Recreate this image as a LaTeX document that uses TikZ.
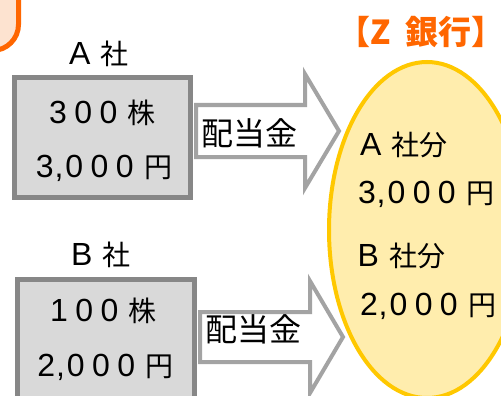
\documentclass[tikz,border=0pt]{standalone}
\usepackage{fontspec}
\usetikzlibrary{shapes.geometric}
\setmainfont{Noto Sans CJK JP}[WordSpace=0.5]
\newfontfamily\latf{Liberation Sans}
\newfontfamily\titlef{Noto Sans CJK JP}[WordSpace=2]
\newlength\lsp \setlength\lsp{7.4pt}
\def\spcaux#1{\ifx\relax#1\else\ifx,#1\kern-6.5pt,\kern2pt\else#1\kern\lsp\fi\expandafter\spcaux\fi}
\newcommand\ltn[1]{{\latf\fontsize{32}{36}\selectfont\spcaux#1\relax}}
\definecolor{boxfill}{HTML}{D9D9D9}
\definecolor{boxline}{HTML}{878787}
\definecolor{arrowline}{HTML}{A3A3A3}
\definecolor{ellfill}{HTML}{FFEDAD}
\definecolor{ellline}{HTML}{FFC800}
\definecolor{titleor}{HTML}{FF6600}
\definecolor{peach}{HTML}{FDE3D0}
\begin{document}
\begin{tikzpicture}[x=1pt,y=-1pt,
  txt/.style={inner sep=0pt, outer sep=0pt, font=\fontsize{28}{34}\selectfont},
  boxstyle/.style={draw=boxline, fill=boxfill, line width=5pt, inner sep=0pt},
  blockarrow/.style={draw=arrowline, fill=white, line width=4pt, line join=miter},
  bank/.style={ellipse, draw=ellline, fill=ellfill, line width=4pt, inner sep=0pt}]
\useasboundingbox (0,0) rectangle (501,396);
\clip (0,0) rectangle (501,396);
% orange corner box
\draw[line width=5pt, draw=titleor, fill=peach, rounded corners=26pt] (-80,-80) rectangle (18.5,50.5);
% bank ellipse
\node[bank, minimum width=196pt, minimum height=336pt] (zbank) at (427,230) {};
\node[txt, anchor=base west, text=titleor, font=\titlef\bfseries\fontsize{33}{40}\selectfont] (title) at (337,45) {【Z 銀行】\kern-17pt};
% arrows
\draw[blockarrow] (196,105) -- (305,105) -- (305,74) -- (339,131) -- (305,188) -- (305,157) -- (196,157) -- cycle;
\draw[blockarrow] (200,312) -- (310,312) -- (310,281) -- (343,337) -- (310,393) -- (310,362) -- (200,362) -- cycle;
% boxes
\node[boxstyle, minimum width=176pt, minimum height=120pt] (boxA) at (102.5,137.5) {};
\node[boxstyle, minimum width=177pt, minimum height=140pt] (boxB) at (106,349.5) {};
% labels
\node[txt, anchor=base] (labA) at (99,65) {\ltn{A} 社};
\node[txt, anchor=base] (labB) at (101,265) {\ltn{B} 社};
\node[txt, anchor=base] (a1) at (102.5,123) {\ltn{300} 株};
\node[txt, anchor=base] (a2) at (104,177) {\ltn{3,000} 円};
\node[txt, anchor=base] (b1) at (103.5,321.7) {\ltn{100} 株};
\node[txt, anchor=base] (b2) at (105.5,376.7) {\ltn{2,000} 円};
\node[txt, anchor=base west, font=\fontsize{32}{38}\selectfont] (divA) at (201,145) {配当金};
\node[txt, anchor=base west, font=\fontsize{32}{38}\selectfont] (divB) at (205,341.5) {配当金};
% bank contents
\node[txt, anchor=base west] (z1) at (360,155) {\ltn{A} 社分};
\node[txt, anchor=base west] (z2) at (358,203) {\ltn{3,000} 円};
\node[txt, anchor=base west] (z3) at (357.5,266.7) {\ltn{B} 社分};
\node[txt, anchor=base west] (z4) at (360,315) {\ltn{2,000} 円};
\end{tikzpicture}
\end{document}
